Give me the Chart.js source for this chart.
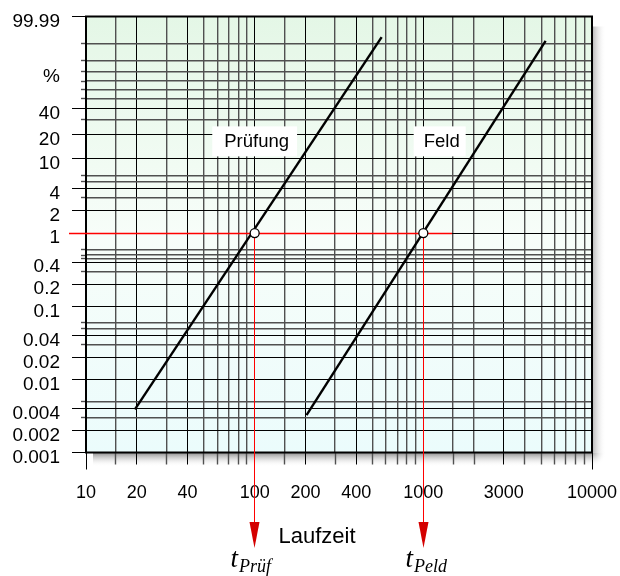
<!DOCTYPE html>
<html>
<head>
<meta charset="utf-8">
<script src="https://cdn.jsdelivr.net/npm/chart.js@4.4.0/dist/chart.umd.min.js"></script>
<style>
  html, body { margin: 0; padding: 0; background: #fff; }
  #wrap { width: 620px; height: 576px; }
</style>
</head>
<body>
<div id="wrap"><canvas id="chart" width="620" height="576"></canvas></div>
<script>
// Laufzeit-Achse (logarithmisch)
const xGrid = [10, 15, 20, 30, 40, 50, 60, 70, 80, 90,
               100, 150, 200, 300, 400, 500, 600, 700, 800, 900,
               1000, 1500, 2000, 3000, 4000, 5000, 6000, 7000, 8000, 9000, 10000];
const xLabels = [10, 20, 40, 100, 200, 400, 1000, 3000, 10000];

// Ausfallwahrscheinlichkeit in % (Weibull-Teilung)
const yGrid = [99.99, 98, 90, 80, 70, 60, 50, 40, 30, 20, 10, 6, 5, 4, 3, 2, 1,
               0.6, 0.5, 0.45, 0.4, 0.3, 0.2, 0.1, 0.06, 0.05, 0.04, 0.03, 0.02, 0.01,
               0.005, 0.004, 0.003, 0.002, 0.001];
const yLabels = [99.99, 40, 20, 10, 4, 2, 1, 0.4, 0.2, 0.1, 0.04, 0.02, 0.01, 0.004, 0.002, 0.001];
const unitAt = 80; // hier steht das "%"

// Geraden
const pruefTime = [19.5, 566];
const pruefPct = [0.0039, 99.18];
const feldTime = [203, 5310];
const feldPct = [0.00325, 98.6];

// Schnittpunkte bei 1 %
const markTime = [100, 1000];
const markPct = [1, 1];
const markSub = ['Prüf', 'Peld'];

function weib(pct) {
    return Math.log(-Math.log1p(-pct / 100));
}

const FONT = "'Liberation Sans', Arial, sans-serif";
const SERIF = "'Liberation Serif', 'Times New Roman', serif";

const gridColor = (labelled) => labelled ? '#000000' : '#505050';
const gridWidth = (labelled) => labelled ? 1 : 1.4;
// wie Chart.js die Gitterlinien auf Pixel legt
const align = (p) => Math.round(p - 0.5) + 0.5;

// keine Extra-Randabstände der Achsen
function noPad(scale) {
    scale.paddingTop = 0;
    scale.paddingBottom = 0;
    scale.paddingLeft = 0;
    scale.paddingRight = 0;
}

const paper = {
    id: 'paper',
    beforeDraw(chart) {
        const { ctx, chartArea: a } = chart;
        ctx.save();
        ctx.fillStyle = '#ffffff';
        ctx.fillRect(0, 0, chart.width, chart.height);

        // Schatten rechts und unten
        let g = ctx.createLinearGradient(a.right, 0, a.right + 14, 0);
        g.addColorStop(0, '#b4b4b4');
        g.addColorStop(1, 'rgba(255,255,255,0)');
        ctx.fillStyle = g;
        ctx.fillRect(a.right, a.top + 10, 14, a.bottom - a.top - 10);
        g = ctx.createLinearGradient(0, a.bottom, 0, a.bottom + 14);
        g.addColorStop(0, '#8a8a8a');
        g.addColorStop(1, 'rgba(255,255,255,0)');
        ctx.fillStyle = g;
        ctx.fillRect(a.left + 7, a.bottom, a.right - a.left - 7, 14);
        g = ctx.createRadialGradient(a.right, a.bottom, 0, a.right, a.bottom, 14);
        g.addColorStop(0, '#a0a0a0');
        g.addColorStop(1, 'rgba(255,255,255,0)');
        ctx.fillStyle = g;
        ctx.fillRect(a.right, a.bottom, 14, 14);

        // Papier
        g = ctx.createLinearGradient(0, a.top, 0, a.bottom);
        g.addColorStop(0, '#e4f7e6');
        g.addColorStop(0.5, '#f7fdf9');
        g.addColorStop(1, '#ebfcfc');
        ctx.fillStyle = g;
        ctx.fillRect(a.left, a.top, a.right - a.left, a.bottom - a.top);
        ctx.restore();
    },
    beforeDatasetsDraw(chart) {
        const { ctx, chartArea: a, scales: { x, y } } = chart;
        ctx.save();

        // Teilstriche außen
        xGrid.forEach((v, i) => {
            const lab = xLabels.includes(v);
            const px = align(x.getPixelForValue(v));
            const long = i === 0 || i === xGrid.length - 1;
            ctx.strokeStyle = gridColor(lab);
            ctx.lineWidth = gridWidth(lab);
            ctx.beginPath();
            ctx.moveTo(px, a.bottom);
            ctx.lineTo(px, a.bottom + (long ? 17 : 12));
            ctx.stroke();
        });
        yGrid.forEach(p => {
            const lab = yLabels.includes(p);
            const py = align(y.getPixelForValue(weib(p)));
            ctx.strokeStyle = gridColor(lab);
            ctx.lineWidth = gridWidth(lab);
            ctx.beginPath();
            ctx.moveTo(a.left - (lab ? 14 : 5), py);
            ctx.lineTo(a.left, py);
            ctx.stroke();
        });

        // Rahmen
        ctx.strokeStyle = '#000';
        ctx.lineWidth = 2;
        ctx.strokeRect(a.left, a.top, a.right - a.left, a.bottom - a.top);

        // Beschriftungsfelder
        const boxes = [
            { text: 'Prüfung', t: 100, p: 16.5, pad: 20 },
            { text: 'Feld', t: 1250, p: 16.5, pad: 16 }
        ];
        ctx.font = '18.5px ' + FONT;
        ctx.textAlign = 'center';
        ctx.textBaseline = 'middle';
        boxes.forEach(b => {
            const cx = x.getPixelForValue(b.t);
            const cy = y.getPixelForValue(weib(b.p));
            const w = ctx.measureText(b.text).width + b.pad;
            ctx.fillStyle = '#ffffff';
            ctx.fillRect(cx - w / 2, cy - 15, w, 30);
            ctx.fillStyle = '#000';
            ctx.fillText(b.text, cx + 2, cy + 1);
        });
        ctx.restore();
    },
    // rote Hilfslinien bei 1 %: nach den Geraden, vor den Kreisen
    beforeDatasetDraw(chart, args) {
        if (args.index !== 2) return;
        const { ctx, chartArea: a, scales: { x, y } } = chart;
        ctx.save();
        const ry = align(y.getPixelForValue(weib(markPct[0])));
        ctx.fillStyle = '#ff0000';
        const xEnd = x.getPixelForValue(1480);
        ctx.fillRect(a.left - 17, ry - 0.75, xEnd - a.left + 17, 1.5);
        markTime.forEach(t => {
            const px = align(x.getPixelForValue(t));
            ctx.fillStyle = '#ff0000';
            ctx.fillRect(px - 0.5, ry, 1, 524 - ry);
            ctx.fillStyle = '#d40000';
            ctx.beginPath();
            ctx.moveTo(px - 5, 522);
            ctx.lineTo(px + 5, 522);
            ctx.lineTo(px, 548);
            ctx.closePath();
            ctx.fill();
        });
        ctx.restore();
    },
    afterDraw(chart) {
        const { ctx, scales: { x } } = chart;
        ctx.save();
        ctx.fillStyle = '#000';
        ctx.textBaseline = 'alphabetic';

        ctx.font = '22px ' + FONT;
        ctx.textAlign = 'center';
        ctx.fillText('Laufzeit', 317, 543);

        ctx.textAlign = 'left';
        const offs = [-4, 3];
        markTime.forEach((t, i) => {
            const px = x.getPixelForValue(t) + offs[i];
            ctx.font = 'italic 27px ' + SERIF;
            const wt = ctx.measureText('t').width;
            ctx.font = 'italic 18px ' + SERIF;
            const ws = ctx.measureText(markSub[i]).width;
            const left = px - (wt + ws + 1) / 2;
            ctx.font = 'italic 27px ' + SERIF;
            ctx.fillText('t', left, 567);
            ctx.font = 'italic 18px ' + SERIF;
            ctx.fillText(markSub[i], left + wt + 1, 572);
        });
        ctx.restore();
    }
};

new Chart(document.getElementById('chart'), {
    type: 'line',
    data: {
        datasets: [
            {
                label: 'Prüfung',
                data: pruefTime.map((t, i) => ({ x: t, y: weib(pruefPct[i]) })),
                borderColor: '#000',
                borderWidth: 2.4,
                pointRadius: 0,
                order: 2
            },
            {
                label: 'Feld',
                data: feldTime.map((t, i) => ({ x: t, y: weib(feldPct[i]) })),
                borderColor: '#000',
                borderWidth: 2.4,
                pointRadius: 0,
                order: 2
            },
            {
                label: '1 %',
                data: markTime.map((t, i) => ({ x: t, y: weib(markPct[i]) })),
                showLine: false,
                pointRadius: 4.5,
                pointBackgroundColor: '#fff',
                pointBorderColor: '#000',
                pointBorderWidth: 1.3,
                order: 1
            }
        ]
    },
    options: {
        responsive: false,
        animation: false,
        layout: { padding: { left: 0, right: 28, top: 16.5, bottom: 0 } },
        plugins: {
            legend: { display: false },
            tooltip: { enabled: false }
        },
        scales: {
            x: {
                type: 'logarithmic',
                min: 10,
                max: 10000,
                afterBuildTicks: (scale) => {
                    scale.ticks = xGrid.map(v => ({ value: v }));
                },
                afterFit: (scale) => { scale.height = 123.5; noPad(scale); },
                border: { display: false },
                grid: {
                    drawTicks: false,
                    color: (c) => gridColor(c.tick && xLabels.includes(c.tick.value)),
                    lineWidth: (c) => gridWidth(c.tick && xLabels.includes(c.tick.value))
                },
                ticks: {
                    autoSkip: false,
                    maxRotation: 0,
                    minRotation: 0,
                    padding: 30,
                    color: '#000',
                    font: { family: FONT, size: 18 },
                    callback: (value) => xLabels.includes(value) ? String(value) : ''
                }
            },
            y: {
                type: 'linear',
                min: weib(0.001),
                max: weib(99.99),
                afterBuildTicks: (scale) => {
                    scale.ticks = yGrid.map(p => ({ value: weib(p) }));
                },
                afterFit: (scale) => { scale.width = 86; noPad(scale); },
                border: { display: false },
                grid: {
                    drawTicks: false,
                    color: (c) => gridColor(yLabels.includes(yGrid[c.index])),
                    lineWidth: (c) => gridWidth(yLabels.includes(yGrid[c.index]))
                },
                ticks: {
                    autoSkip: false,
                    padding: 26,
                    labelOffset: 5,
                    color: '#000',
                    font: { family: FONT, size: 19 },
                    callback: (value, index) => {
                        const p = yGrid[index];
                        if (p === unitAt) return '%';
                        return yLabels.includes(p) ? String(p) : '';
                    }
                }
            }
        }
    },
    plugins: [paper]
});
</script>
</body>
</html>
